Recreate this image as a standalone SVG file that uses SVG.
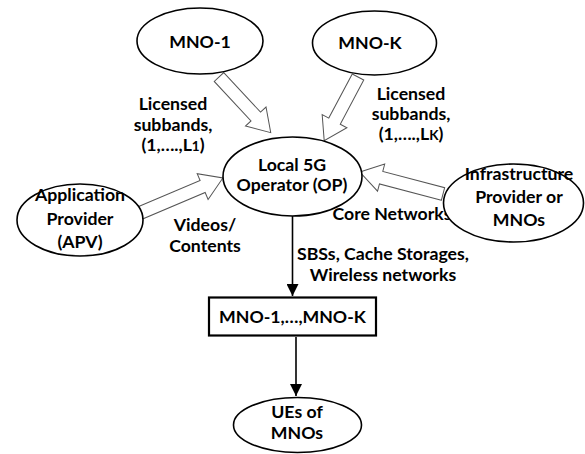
<svg xmlns="http://www.w3.org/2000/svg" width="585" height="454" viewBox="0 0 585 454">
<defs>
<style>
.n{fill:#fff;stroke:#000;stroke-width:1.6}
.b{fill:#fff;stroke:#000;stroke-width:2.2}
.t{font-family:Lato,"Liberation Sans",sans-serif;font-weight:bold;font-size:17.7px;fill:#000;text-anchor:middle}
.ba{fill:#fff;stroke:#555;stroke-width:1}
.c{stroke:#000;stroke-width:1.6;fill:none}
</style>
<marker id="ah" markerWidth="12" markerHeight="12" refX="10" refY="5" orient="auto" markerUnits="userSpaceOnUse" viewBox="0 0 10 10">
<path d="M0,0 L10,5 L0,10 z" fill="#000"/>
</marker>
</defs>
<rect width="585" height="454" fill="#fff"/>
<g id="connectors">
<polygon class="ba" transform="translate(219,77) rotate(47.1)" points="0,-6.5 54,-6.5 54,-14 76,0 54,14 54,6.5 0,6.5"/>
<polygon class="ba" transform="translate(358,77) rotate(118)" points="0,-6.5 50,-6.5 50,-14 72,0 50,14 50,6.5 0,6.5"/>
<polygon class="ba" transform="translate(140,213) rotate(-22.9)" points="0,-6.5 68,-6.5 68,-14 90,0 68,14 68,6.5 0,6.5"/>
<polygon class="ba" transform="translate(443,194) rotate(-165.2)" points="0,-6.5 64,-6.5 64,-14 86,0 64,14 64,6.5 0,6.5"/>
<line class="c" x1="292.5" y1="216" x2="292.5" y2="296" marker-end="url(#ah)"/>
<line class="c" x1="296" y1="337" x2="296" y2="396" marker-end="url(#ah)"/>
<text class="t" x="173" y="110">Licensed</text>
<text class="t" x="173" y="130.5">subbands,</text>
<text class="t" x="173" y="151">(1,….,L<tspan font-size="13.5">1</tspan>)</text>
<text class="t" x="411" y="100">Licensed</text>
<text class="t" x="411" y="120">subbands,</text>
<text class="t" x="411" y="140">(1,….,L<tspan font-size="13.5">K</tspan>)</text>
<text class="t" x="205" y="231">Videos/</text>
<text class="t" x="205" y="252">Contents</text>
<text class="t" x="392" y="220">Core Networks</text>
<text class="t" x="383" y="260">SBSs, Cache Storages,</text>
<text class="t" x="383" y="281">Wireless networks</text>
</g>
<g id="mno1"><ellipse class="n" cx="200" cy="41" rx="63" ry="33"/><text class="t" x="200" y="48">MNO-1</text></g>
<g id="mnok"><ellipse class="n" cx="374.5" cy="43" rx="62" ry="32"/><text class="t" x="370" y="49">MNO-K</text></g>
<g id="op"><ellipse class="n" cx="292.5" cy="176.5" rx="69.5" ry="39.5"/><text class="t" x="292" y="171">Local 5G</text><text class="t" x="292" y="191">Operator (OP)</text></g>
<g id="apv"><ellipse class="n" cx="80" cy="220" rx="63" ry="36"/><text class="t" x="80" y="201">Application</text><text class="t" x="80" y="224.5">Provider</text><text class="t" x="80" y="248">(APV)</text></g>
<g id="infra"><ellipse class="n" cx="513.5" cy="203" rx="70" ry="39"/><text class="t" x="519" y="180">Infrastructure</text><text class="t" x="519" y="203">Provider or</text><text class="t" x="519" y="226">MNOs</text></g>
<g id="box"><rect class="b" x="209" y="297.5" width="167" height="38"/><text class="t" x="292.5" y="323">MNO-1,…,MNO-K</text></g>
<g id="ues"><ellipse class="n" cx="297.5" cy="425" rx="64" ry="27.5"/><text class="t" x="297" y="418">UEs of</text><text class="t" x="297" y="439">MNOs</text></g>
</svg>
